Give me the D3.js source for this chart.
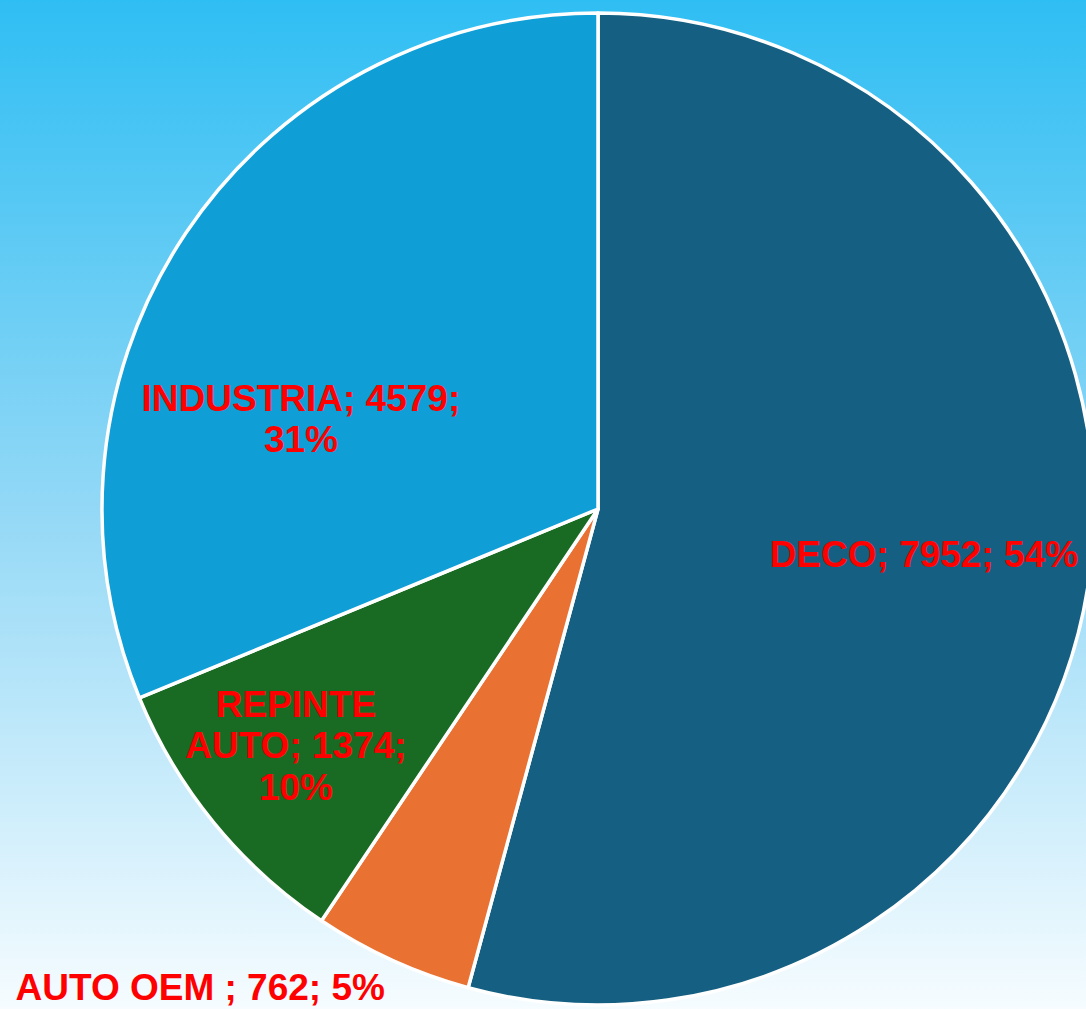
<!DOCTYPE html>
<html>
<head>
<meta charset="utf-8">
<script src="https://cdn.jsdelivr.net/npm/d3@7"></script>
<style>
  html, body { margin: 0; padding: 0; overflow: hidden; }
  #chart svg { display: block; }
</style>
</head>
<body>
<div id="chart"></div>
<script>
const categories = ["DECO", "AUTO OEM ", "REPINTE AUTO", "INDUSTRIA"];
const values = [7952, 762, 1374, 4579];
const percents = ["54%", "5%", "10%", "31%"];

// label lines as they wrap in the original
const labelLines = [
    ["DECO; 7952; 54%"],
    ["AUTO OEM ; 762; 5%"],
    ["REPINTE", "AUTO; 1374;", "10%"],
    ["INDUSTRIA; 4579;", "31%"]
];

const sliceColors = ["#156082", "#E97132", "#196B24", "#0F9ED5"];

// label anchor (first baseline) as fraction of radius from the centre
const labelOffsets = [[0.657, 0.117], [-0.802, 0.99], [-0.609, 0.419], [-0.599, -0.198]];

const width = 1086, height = 1009;
const cx = 598, cy = 509, radius = 496;

const svg = d3.select("#chart")
    .append("svg")
    .attr("width", width)
    .attr("height", height);

const grad = svg.append("defs").append("linearGradient")
    .attr("id", "bg")
    .attr("x1", "0").attr("y1", "0")
    .attr("x2", "0").attr("y2", "1");
grad.append("stop").attr("offset", "0").attr("stop-color", "#2FBEF3");
grad.append("stop").attr("offset", "0.5").attr("stop-color", "#92D8F6");
grad.append("stop").attr("offset", "1").attr("stop-color", "#F6FCFF");

svg.append("rect")
    .attr("width", width)
    .attr("height", height)
    .attr("fill", "url(#bg)");

const pie = d3.pie().sort(null).value(d => d);
const arc = d3.arc().innerRadius(0).outerRadius(radius);

const g = svg.append("g").attr("transform", `translate(${cx},${cy})`);

g.selectAll("path")
    .data(pie(values))
    .enter()
    .append("path")
    .attr("d", arc)
    .attr("fill", (d, i) => sliceColors[i])
    .attr("stroke", "#fff")
    .attr("stroke-width", 3.5)
    .attr("stroke-linejoin", "round");

const labels = g.selectAll("text.lbl")
    .data(labelLines)
    .enter()
    .append("text")
    .attr("class", "lbl")
    .attr("text-anchor", "middle")
    .attr("font-family", "'Liberation Sans', Arial, sans-serif")
    .attr("font-weight", "bold")
    .attr("font-size", 37)
    .attr("fill", "#FF0000");

labels.each(function(lines, i) {
    const t = d3.select(this);
    const x = labelOffsets[i][0] * radius;
    const y = labelOffsets[i][1] * radius;
    lines.forEach((line, j) => {
        t.append("tspan")
            .attr("x", x)
            .attr("y", y + j * 41.5)
            .text(line);
    });
});
</script>
</body>
</html>
